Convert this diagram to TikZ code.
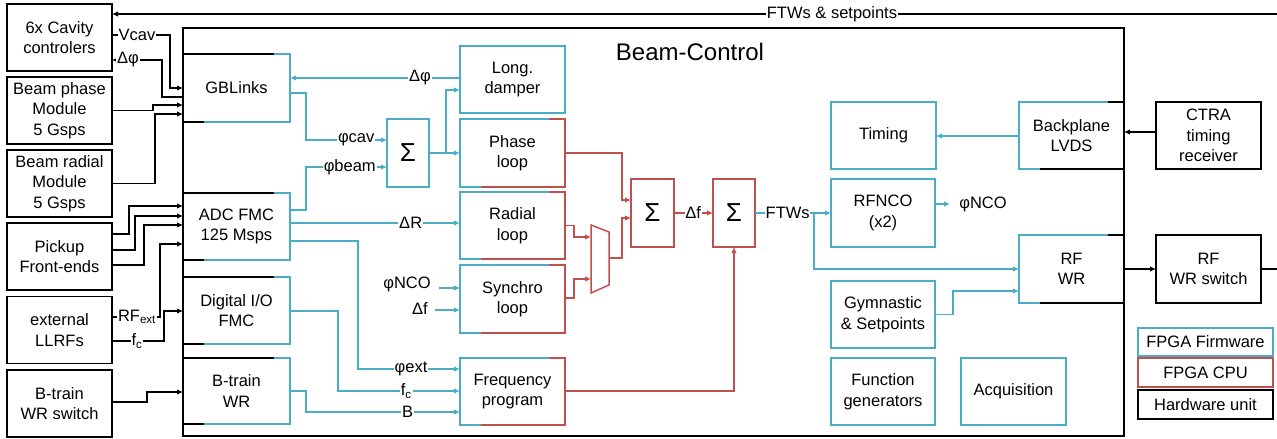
\documentclass[tikz,border=0pt]{standalone}
\usepackage{fontspec}
\setmainfont{Liberation Sans}
\usetikzlibrary{arrows.meta,calc}
\definecolor{fw}{HTML}{4BACC6}
\definecolor{cpu}{HTML}{C0504D}
\newcommand\myfs{\fontsize{16.5}{20.5}\selectfont}
\newcommand\sigfs{\fontsize{26}{28}\selectfont}
\newcommand\bic[3]{%
  \draw[#2,bline] ($(#1.north west)!0.85!(#1.north east)$) -- (#1.north west) -- (#1.south west) -- ($(#1.south west)!0.2!(#1.south east)$);
  \draw[#3,bline] ($(#1.north west)!0.85!(#1.north east)$) -- (#1.north east) -- (#1.south east) -- ($(#1.south west)!0.2!(#1.south east)$);}
\tikzset{
  box/.style={minimum width=105pt, minimum height=67pt, align=center, font=\myfs, inner sep=0pt, outer sep=0pt, fill=white, line width=1.8pt},
  hw/.style={box, draw=black},
  fwb/.style={box, draw=fw},
  cpub/.style={box, draw=cpu},
  bline/.style={line width=1.8pt},
  conn/.style={line width=1.1pt},
  arr/.style={conn, -{Latex[length=6pt,width=5.5pt]}},
  lbl/.style={fill=white, inner sep=0.8pt, font=\myfs, text=black},
}
\begin{document}
\begin{tikzpicture}[x=1pt, y=-1pt, line join=miter]
\useasboundingbox (0,0) rectangle (1277,439);
% frame
\node[hw, minimum width=941pt, minimum height=408pt, line width=2pt, fill=none] (bc) at (653.5,232) {};
\node[font=\fontsize{24}{28}\selectfont] (title) at (690,52) {Beam-Control};
% left hardware column
\node[hw] (cav) at (59.5,37.5) {6x Cavity\\controlers};
\node[hw] (bpm) at (59.5,110.5) {Beam phase\\Module\\5 Gsps};
\node[hw] (brm) at (59.5,183.5) {Beam radial\\Module\\5 Gsps};
\node[hw] (pick) at (59.5,256.5) {Pickup\\Front-ends};
\node[hw] (ext) at (59.5,330) {external\\LLRFs};
\node[hw] (btsw) at (59.5,403.5) {B-train\\WR switch};
% interface boxes
\node[box, minimum width=107pt, minimum height=68pt] (gbl) at (236.5,88) {GBLinks};
\node[box, minimum width=107pt] (adc) at (236.5,226.5) {ADC FMC\\125 Msps};
\node[box, minimum width=107pt] (dio) at (236.5,310.5) {Digital I/O\\FMC};
\node[box, minimum width=107pt, minimum height=66pt] (btr) at (236.5,391) {B-train\\WR};
% loops
\node[fwb] (ld) at (512.5,79.5) {Long.\\damper};
\node[box, minimum height=68pt] (pl) at (512.5,153) {Phase\\loop};
\node[box] (rl) at (512.5,225.5) {Radial\\loop};
\node[box, minimum height=68pt] (sl) at (512.5,299) {Synchro\\loop};
\node[box] (fp) at (512.5,391.5) {Frequency\\program};
\node[fwb, minimum width=42pt, minimum height=68pt, font=\sigfs] (s1) at (408,153) {Σ};
\node[cpub, minimum width=43pt, minimum height=68pt, font=\sigfs] (s2) at (652.5,213) {Σ};
\node[cpub, minimum width=42pt, minimum height=68pt, font=\sigfs] (s3) at (734,213) {Σ};
% mux
\draw[cpu, line width=1.5pt, fill=white] (591,225) -- (609,232) -- (609,285) -- (591,293) -- cycle;
\coordinate (mux1) at (591,237);
\coordinate (mux2) at (591,279);
\coordinate (muxo) at (609,258);
% right side
\node[fwb] (tim) at (883.5,135.5) {Timing};
\node[box] (bpl) at (1071.5,135.5) {Backplane\\LVDS};
\node[hw] (ctra) at (1208.5,135.5) {CTRA\\timing\\receiver};
\node[fwb, minimum width=104pt, minimum height=68pt] (nco) at (883,213) {RFNCO\\(x2)};
\node[box, minimum height=68pt] (rfwr) at (1071.5,269) {RF\\WR};
\node[hw, minimum height=68pt] (rfsw) at (1208.5,269) {RF\\WR switch};
\node[fwb, minimum width=104pt] (gym) at (883,314.5) {Gymnastic\\\& Setpoints};
\node[fwb, minimum width=104pt] (fg) at (883,391.5) {Function\\generators};
\node[fwb] (acq) at (1013.5,391.5) {Acquisition};
% legend
\node[fwb, minimum width=135pt, minimum height=28pt] (lfw) at (1205.5,342) {FPGA Firmware};
\node[cpub, minimum width=135pt, minimum height=29pt] (lcpu) at (1205.5,372.5) {FPGA CPU};
\node[hw, minimum width=135pt, minimum height=29pt] (lhw) at (1205.5,404.5) {Hardware unit};
% two-colour borders
\bic{gbl}{black}{fw}
\bic{adc}{black}{fw}
\bic{dio}{black}{fw}
\bic{btr}{black}{fw}
\bic{pl}{fw}{cpu}
\bic{rl}{fw}{cpu}
\bic{sl}{fw}{cpu}
\bic{fp}{fw}{cpu}
\bic{bpl}{fw}{black}
\bic{rfwr}{fw}{black}
% ---- black connectors
\coordinate (topR) at (1277,14);
\draw[arr] (topR) -- node[lbl,pos=0.382]{FTWs \& setpoints} (cav.east|-topR);
\draw[arr] (cav.east|-0,35) -- node[lbl,pos=0.43]{Vcav} (170,35) |- (gbl.west|-0,88);
\draw[arr] (gbl.west|-0,97) -- (162,97) -- (162,60) -- node[lbl,pos=0.68]{Δφ} (cav.east|-0,60);
\draw[arr] (bpm.east) -- (153,110.5) |- (gbl.west|-0,105);
\draw[arr] (brm.east) -- (155,183.5) |- (gbl.west|-0,114);
\draw[arr] (pick.east|-0,234) -- (129,234) |- (adc.west|-0,206);
\draw[arr] (pick.east|-0,250) -- (135,250) |- (adc.west|-0,216);
\draw[arr] (pick.east|-0,265) -- (144,265) |- (adc.west|-0,225);
\draw[arr] (ext.east|-0,317) -- node[lbl,pos=0.52]{RF\textsubscript{ext}} (160,317) |- (adc.west|-0,244);
\draw[arr] (ext.east|-0,341) -- node[lbl,pos=0.48]{f\textsubscript{c}} (164,341) |- (dio.west|-0,311);
\draw[arr] (btsw.east|-0,402) -- (147,402) |- (btr.west|-0,392);
\draw[arr] (ctra.west|-0,132) -- (bc.east|-0,132);
\draw[arr] (rfwr.east) -- (rfsw.west);
\coordinate (rightR) at (1277,269);
\draw[conn] (rfsw.east) -- (rightR);
% ---- blue connectors
\draw[arr,fw] (ld.west|-0,78) -- node[lbl,pos=0.235]{Δφ} (gbl.east|-0,78);
\draw[arr,fw] (gbl.east|-0,93) -- (306,93) |- node[lbl,pos=0.81]{φcav} (s1.west|-0,140);
\draw[arr,fw] (adc.east|-0,210) -- (306,210) |- node[lbl,pos=0.77]{φbeam} (s1.west|-0,167);
\draw[arr,fw] (s1.east) -- (pl.west);
\draw[arr,fw] (446,153) |- (ld.west|-0,90);
\draw[arr,fw] (adc.east|-0,223) -- node[lbl,pos=0.71]{ΔR} (rl.west|-0,223);
\draw[arr,fw] (adc.east|-0,241) -- (358,241) |- node[lbl,pos=0.76]{φext} (fp.west|-0,369);
\draw[arr,fw] (dio.east|-0,311) -- (338,311) |- node[lbl,pos=0.78]{f\textsubscript{c}} (fp.west|-0,391);
\draw[arr,fw] (btr.east|-0,391) -- (306,391) |- node[lbl,pos=0.83]{B} (fp.west|-0,412);
\node[font=\myfs] (ncoL) at (407,284) {φNCO};
\coordinate (ncoA) at (439,288);
\draw[arr,fw] (ncoA) -- (sl.west|-ncoA);
\node[font=\myfs] (dfL) at (420,309) {Δf};
\coordinate (dfA) at (435,310);
\draw[arr,fw] (dfA) -- (sl.west|-dfA);
\draw[arr,fw] (s3.east) -- node[lbl,pos=0.43]{FTWs} (nco.west);
\draw[arr,fw] (814,213) |- (rfwr.west|-0,269);
\draw[arr,fw] (gym.east) -- (953,314.5) |- (rfwr.west|-0,291);
\coordinate (ncoend) at (950,204);
\draw[arr,fw] (nco.east|-ncoend) -- (ncoend);
\node[font=\myfs] (ncoR) at (983,204) {φNCO};
\draw[arr,fw] (bpl.west|-0,136) -- (tim.east|-0,136);
% ---- red connectors
\draw[arr,cpu] (pl.east) -- (622,153) |- (s2.west|-0,200);
\draw[arr,cpu] (rl.east) -- (574,225.5) |- (mux1);
\draw[arr,cpu] (sl.east|-0,298) -- (574,298) |- (mux2);
\draw[arr,cpu] (muxo) -- (622,258) |- (s2.west|-0,218);
\draw[arr,cpu] (s2.east) -- node[lbl,pos=0.49]{Δf} (s3.west);
\draw[arr,cpu] (fp.east|-0,391) -| (s3.south);
\end{tikzpicture}
\end{document}
